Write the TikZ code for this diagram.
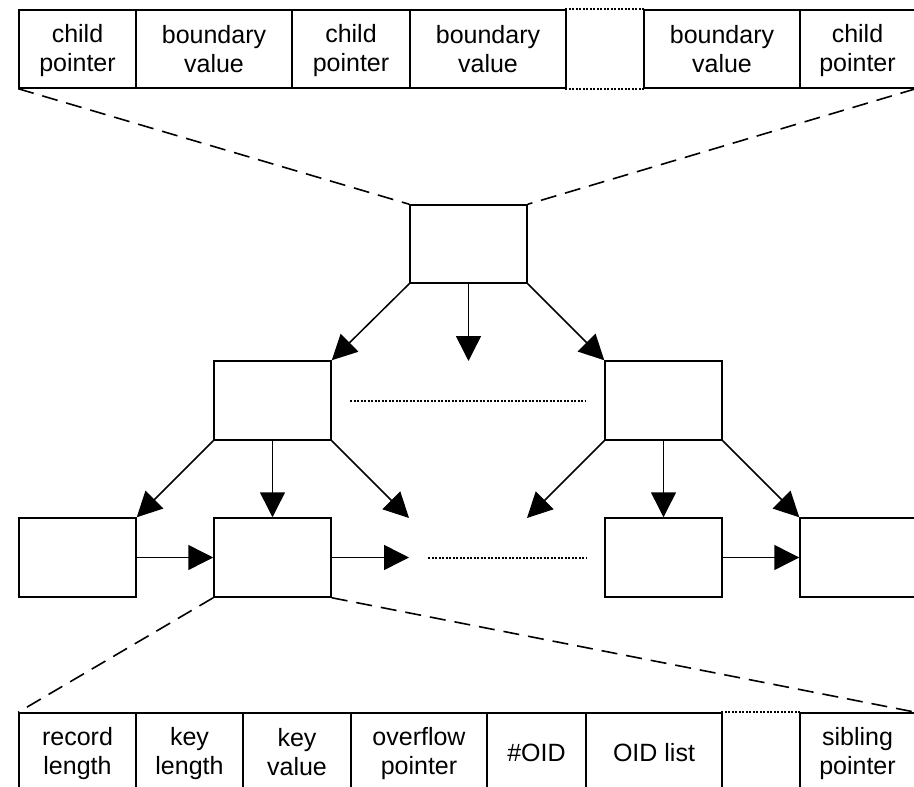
\documentclass[tikz,border=0pt]{standalone}
\usepackage{fontspec}
\setmainfont{Liberation Sans}
\usetikzlibrary{arrows.meta}
\newcommand\twoline[2]{\rule{0pt}{22pt}#1\\#2\rule[-5pt]{0pt}{5pt}}
\newcommand\oneline[1]{\rule{0pt}{19.5pt}#1}
\begin{document}
\begin{tikzpicture}[x=1pt,y=-1pt,
  line width=1.5pt,
  cell/.style={draw,rectangle,inner sep=0pt,minimum height=78pt,align=center,
    font=\fontsize{25}{29}\selectfont},
  gapcell/.style={rectangle,inner sep=0pt,minimum height=78pt},
  box/.style={draw,rectangle,inner sep=0pt},
  arr/.style={-{Triangle[length=25pt,width=25pt]}},
  dashln/.style={line width=1.6pt,dash pattern=on 16pt off 9pt},
  dotln/.style={line width=2pt,dash pattern=on 2pt off 1.5pt}]
\useasboundingbox (0,0) rectangle (914,787);
\clip (0,0) rectangle (914,787);
\fill[white] (0,0) rectangle (914,787);
% top row
\node[cell,minimum width=117pt] (t1) at (77.5,49) {\twoline{child}{pointer}};
\node[cell,minimum width=156pt] (t2) at (214,49) {\twoline{boundary}{value}};
\node[cell,minimum width=118pt] (t3) at (351,49) {\twoline{child}{pointer}};
\node[cell,minimum width=156pt] (t4) at (488,49) {\twoline{boundary}{value}};
\node[gapcell,minimum width=78pt] (tg) at (605,49) {};
\node[cell,minimum width=156pt] (t5) at (722,49) {\twoline{boundary}{value}};
\node[cell,minimum width=115pt] (t6) at (857.5,49) {\twoline{child}{pointer}};
\draw[dotln] (tg.north west) -- (tg.north east);
\draw[dotln] (tg.south west) -- (tg.south east);
% tree
\node[box,minimum width=117pt,minimum height=78pt] (r) at (468.5,244) {};
\node[box,minimum width=117pt,minimum height=79pt] (m1) at (272.5,400.5) {};
\node[box,minimum width=117pt,minimum height=79pt] (m2) at (663.5,400.5) {};
\node[box,minimum width=117pt,minimum height=79pt] (l1) at (77.5,557.5) {};
\node[box,minimum width=117pt,minimum height=79pt] (l2) at (272.5,557.5) {};
\node[box,minimum width=117pt,minimum height=79pt] (l3) at (663.5,557.5) {};
\node[box,minimum width=115pt,minimum height=79pt] (l4) at (857.5,557.5) {};
\coordinate (rmid) at (468.5,361);
\coordinate (c1) at (409,518);
\coordinate (c2) at (527,518);
\coordinate (c3) at (409,557.5);
\coordinate (d1) at (350,401);
\coordinate (d2) at (586,401);
\coordinate (d3) at (428,557.5);
\coordinate (d4) at (586,557.5);
\draw[arr] (r.south west) -- (m1.north east);
\draw[arr] (r.south) -- (rmid);
\draw[arr] (r.south east) -- (m2.north west);
\draw[arr] (m1.south west) -- (l1.north east);
\draw[arr] (m1.south) -- (l2.north);
\draw[arr] (m1.south east) -- (c1);
\draw[arr] (m2.south west) -- (c2);
\draw[arr] (m2.south) -- (l3.north);
\draw[arr] (m2.south east) -- (l4.north west);
\draw[arr] (l1.east) -- (l2.west);
\draw[arr] (l2.east) -- (c3);
\draw[arr] (l3.east) -- (l4.west);
\draw[dotln] (d1) -- (d2);
\draw[dotln] (d3) -- (d4);
% bottom row
\node[cell,minimum width=117pt] (b1) at (77.5,752) {\twoline{record}{length}};
\node[cell,minimum width=107pt] (b2) at (189.5,752) {\twoline{key}{length}};
\node[cell,minimum width=108pt] (b3) at (297,752) {\twoline{key}{value}};
\node[cell,minimum width=136pt] (b4) at (419,752) {\twoline{overflow}{pointer}};
\node[cell,minimum width=99pt] (b5) at (536.5,752) {\oneline{\#OID}};
\node[cell,minimum width=136pt] (b6) at (654,752) {\oneline{OID list}};
\node[gapcell,minimum width=78pt] (bg) at (761,752) {};
\node[cell,minimum width=115pt] (b7) at (857.5,752) {\twoline{sibling}{pointer}};
\draw[dotln] (bg.north west) -- (bg.north east);
% dashed zoom lines
\draw[dashln] (t1.south west) -- (r.north west);
\draw[dashln] (t6.south east) -- (r.north east);
\draw[dashln] (l2.south west) -- (b1.north west);
\draw[dashln] (l2.south east) -- (b7.north east);
\end{tikzpicture}
\end{document}
